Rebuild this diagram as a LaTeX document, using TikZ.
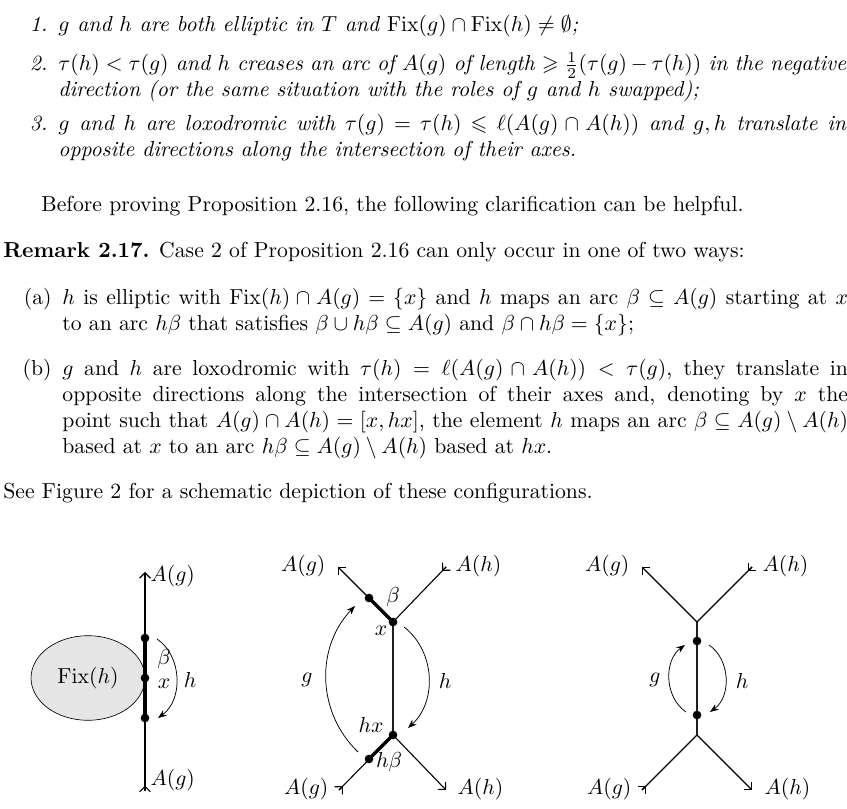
\documentclass[tikz,border=0pt]{standalone}
\usepackage{amsmath,amssymb}
\usetikzlibrary{shapes.geometric,arrows.meta,calc}
\DeclareMathOperator{\Fix}{Fix}
\newcommand{\itemlab}[1]{\llap{#1\hspace{5pt}}}
\begin{document}
\begin{tikzpicture}[
  x=0.4608pt,y=-0.4608pt,
  par/.style={anchor=north west,inner sep=0pt,align=justify},
  axis/.style={line width=0.5pt,-{Straight Barb[length=2.5pt,width=5pt]}},
  tailmark/.style={line width=0.5pt,-{Straight Barb[length=2.5pt,width=5pt]}},
  seg/.style={line width=1.5pt},
  act/.style={line width=0.35pt,-{Stealth[length=4pt,width=3pt]}},
  pt/.style={circle,fill,inner sep=0pt,minimum size=4pt}
]
\useasboundingbox (0,0) rectangle (847,809);

% the cases
\node[par,text width=363pt] (item1) at (58,15) {\itshape\itemlab{1.}$g$ and $h$ are both elliptic in $T$ and $\Fix(g)\cap\Fix(h)\neq\emptyset$;};
\node[par,text width=363pt] (item2) at (58,52) {\itshape\itemlab{2.}$\tau(h)<\tau(g)$ and $h$ creases an arc of $A(g)$ of length $\geqslant\frac12(\tau(g)-\tau(h))$ in the negative\linebreak direction (or the same situation with the roles of $g$ and $h$ swapped);};
\node[par,text width=363pt] (item3) at (58,114) {\itshape\itemlab{3.}$g$ and $h$ are loxodromic with $\tau(g)=\tau(h)\leqslant\ell(A(g)\cap A(h))$ and $g,h$ translate in\linebreak opposite directions along the intersection of their axes.};

\node[par] (before) at (41,196) {Before proving Proposition 2.16, the following clarification can be helpful.};
\node[par] (remark) at (3,242) {\textbf{Remark 2.17.} Case 2 of Proposition 2.16 can only occur in one of two ways:};

\node[par,text width=362pt] (casea) at (62,288) {\itemlab{(a)}$h$ is elliptic with $\Fix(h)\cap A(g)=\{x\}$ and $h$ maps an arc $\beta\subseteq A(g)$ starting at $x$\linebreak to an arc $h\beta$ that satisfies $\beta\cup h\beta\subseteq A(g)$ and $\beta\cap h\beta=\{x\}$;};
\node[par,text width=362pt] (caseb) at (62,359) {\itemlab{(b)}$g$ and $h$ are loxodromic with $\tau(h)=\ell(A(g)\cap A(h))<\tau(g)$, they translate in\linebreak opposite directions along the intersection of their axes and, denoting by $x$ the\linebreak point such that $A(g)\cap A(h)=[x,hx]$, the element $h$ maps an arc $\beta\subseteq A(g)\setminus A(h)$\linebreak based at $x$ to an arc $h\beta\subseteq A(g)\setminus A(h)$ based at $hx$.};

\node[par] (see) at (3,483) {See Figure 2 for a schematic depiction of these configurations.};

% first configuration
\node[ellipse,draw,line width=0.3pt,fill=black!10,minimum width=52.5pt,minimum height=39pt,inner sep=0pt] (fix) at (88,678) {$\Fix(h)$};
\coordinate (Ltop) at (145,572);
\coordinate (Lbot) at (145,791);
\node[pt] (Lb) at (145,638) {};
\node[pt] (Lx) at (145,678) {};
\node[pt] (Lhb) at (145,718) {};
\draw[axis] (Lbot) -- (Ltop);
\draw[tailmark] (Lbot) -- ($(Lbot)!2.5pt!(Ltop)$);
\draw[seg] (Lb.center) -- (Lhb.center);
\draw[act] (157,639) to[bend left=55] (158,718);
\node[anchor=west,inner sep=1pt] at (148,576) {$A(g)$};
\node[anchor=west,inner sep=1pt] at (148,780) {$A(g)$};
\node at (164,659) {$\beta$};
\node at (164,684) {$x$};
\node at (190,680) {$h$};

% second configuration
\coordinate (Mx) at (393,622);
\coordinate (Mhx) at (393,735);
\coordinate (Mtl) at (338,567);
\coordinate (Mtr) at (446,567);
\coordinate (Mbl) at (339,790);
\coordinate (Mbr) at (446,790);
\draw[axis] (Mbl) -- (Mhx) -- (Mx) -- (Mtl);
\draw[axis] (Mtr) -- (Mx) -- (Mhx) -- (Mbr);
\draw[tailmark] (Mbl) -- ($(Mbl)!2.5pt!(Mhx)$);
\draw[tailmark] (Mtr) -- ($(Mtr)!2.5pt!(Mx)$);
\node[pt] (Mb) at (369,598) {};
\node[pt] (Mhb) at (369,759) {};
\draw[seg] (Mx) -- (Mb.center);
\draw[seg] (Mhx) -- (Mhb.center);
\fill (Mx) circle (2pt) (Mhx) circle (2pt);
\draw[act] (358,752) to[bend left=45] (355,606);
\draw[act] (404,627) to[bend left=50] (408,728);
\node at (393,597) {$\beta$};
\node at (381,631) {$x$};
\node at (371,725) {$hx$};
\node at (389,762) {$h\beta$};
\node at (307,680) {$g$};
\node at (445,681) {$h$};
\node[anchor=east,inner sep=1pt] at (328,566) {$A(g)$};
\node[anchor=west,inner sep=1pt] at (453,566) {$A(h)$};
\node[anchor=east,inner sep=1pt] at (331,789) {$A(g)$};
\node[anchor=west,inner sep=1pt] at (455,789) {$A(h)$};

% third configuration
\coordinate (Rx) at (697,622);
\coordinate (Rhx) at (697,735);
\coordinate (Rtl) at (642,567);
\coordinate (Rtr) at (752,567);
\coordinate (Rbl) at (642,790);
\coordinate (Rbr) at (752,790);
\draw[axis] (Rbl) -- (Rhx) -- (Rx) -- (Rtl);
\draw[axis] (Rtr) -- (Rx) -- (Rhx) -- (Rbr);
\draw[tailmark] (Rbl) -- ($(Rbl)!2.5pt!(Rhx)$);
\draw[tailmark] (Rtr) -- ($(Rtr)!2.5pt!(Rx)$);
\node[pt] (Rp) at (697,641) {};
\node[pt] (Rq) at (697,715) {};
\draw[act] (686,712) to[bend left=55] (685,645);
\draw[act] (709,645) to[bend left=55] (710,712);
\node at (655,680) {$g$};
\node at (742,681) {$h$};
\node[anchor=east,inner sep=1pt] at (632,566) {$A(g)$};
\node[anchor=west,inner sep=1pt] at (760,566) {$A(h)$};
\node[anchor=east,inner sep=1pt] at (634,789) {$A(g)$};
\node[anchor=west,inner sep=1pt] at (762,789) {$A(h)$};
\end{tikzpicture}
\end{document}
